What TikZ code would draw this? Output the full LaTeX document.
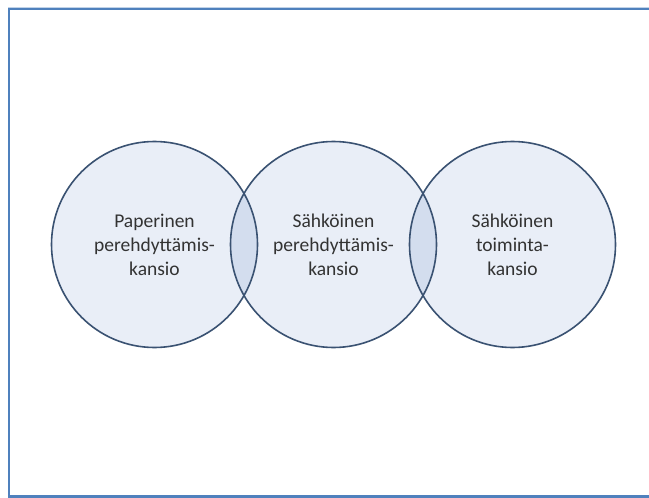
\documentclass[tikz,border=0pt]{standalone}
\usepackage{fontspec}
\setmainfont{Carlito}
\definecolor{frameblue}{HTML}{4F81BD}
\definecolor{circfill}{HTML}{E9EEF7}
\definecolor{lensfill}{HTML}{D3DDEE}
\definecolor{circline}{HTML}{3A5272}
\definecolor{txt}{HTML}{333333}
\begin{document}
\begin{tikzpicture}[x=1pt,y=-1pt,
  venn/.style={circle,minimum size=206pt,inner sep=0pt,align=center,
    font=\fontsize{19.5}{24}\selectfont,text=txt}]
\useasboundingbox (0,0) rectangle (649,498);
\fill[white] (0,0) rectangle (649,498);
\draw[frameblue!35,line width=1pt] (8,7) -- (649,7);
\draw[frameblue,line width=2.2pt] (649,9) -- (9,9) -- (9,496.5) -- (649,496.5);
% fills
\fill[circfill] (154.5,244.5) circle (103);
\fill[circfill] (333.5,244.5) circle (103);
\fill[circfill] (512.5,244.5) circle (103);
\begin{scope}
\clip (154.5,244.5) circle (103);
\fill[lensfill] (333.5,244.5) circle (103);
\end{scope}
\begin{scope}
\clip (333.5,244.5) circle (103);
\fill[lensfill] (512.5,244.5) circle (103);
\end{scope}
\node[venn,draw=circline,line width=1.6pt] (a) at (154.5,244.5) {Paperinen\\perehdyttämis-\\kansio};
\node[venn,draw=circline,line width=1.6pt] (b) at (333.5,244.5) {Sähköinen\\perehdyttämis-\\kansio};
\node[venn,draw=circline,line width=1.6pt] (c) at (512.5,244.5) {Sähköinen\\toiminta-\\kansio};
\end{tikzpicture}
\end{document}
